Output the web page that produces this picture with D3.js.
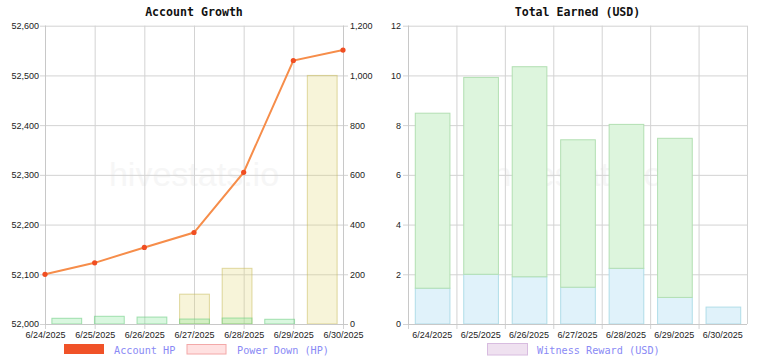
<!DOCTYPE html>
<html><head><meta charset="utf-8">
<script src="https://cdn.jsdelivr.net/npm/d3@7"></script>
<style>
body{margin:0;background:#fff;}
svg text{font-family:"Liberation Sans Narrow","Liberation Sans",Arial,sans-serif;}
.title{font-family:"DejaVu Sans Mono",monospace !important;font-weight:bold;font-size:11.6px;fill:#111;}
.leg{font-family:"DejaVu Sans Mono",monospace !important;font-size:10.2px;fill:#8a8af5;}
.tick text{font-size:9px;fill:#333;}
</style></head><body>
<svg id="c" width="768" height="358"></svg>
<script>
const dates = ["6/24/2025","6/25/2025","6/26/2025","6/27/2025","6/28/2025","6/29/2025","6/30/2025"];
const accountHP = [52100,52123,52154,52184,52305,52530,52551];
const powerDownHP = [0,0,0,120,224,0,1000];
const otherHP = [23,31,28,20,24,19,0];
const leftTicks = [52000,52100,52200,52300,52400,52500,52600];
const rightTicks = [0,200,400,600,800,1000,1200];
const witnessUSD = [1.44,2.0,1.90,1.48,2.24,1.07,0.68];
const otherUSD = [7.04,7.92,8.45,5.93,5.79,6.40,0];
const usdTicks = [0,2,4,6,8,10,12];

const svg = d3.select("#c");
const grid = "#d3d3d3";
const fmt = d3.format(",");

// ---------- Left chart ----------
const L = {x0:45,x1:343,y0:25.7,y1:324};
const xp = d3.scalePoint().domain(dates).range([L.x0,L.x1]);
const xb = d3.scaleBand().domain(dates).range([L.x0,L.x1]).paddingInner(0.3).paddingOuter(0.15);
const yl = d3.scaleLinear().domain([52000,52600]).range([L.y1,L.y0]);
const yr = d3.scaleLinear().domain([0,1200]).range([L.y1,L.y0]);
const gL = svg.append("g");

// watermark
gL.append("text").attr("x",(L.x0+L.x1)/2).attr("y",186).attr("text-anchor","middle")
  .style("font-family","Liberation Sans,Arial").style("font-size","34px").style("fill","#f6f6f6").text("hivestats.io");

// grid
gL.append("g").selectAll("line").data(leftTicks).join("line")
  .attr("x1",L.x0-5).attr("x2",L.x1+5).attr("y1",d=>yl(d)+0.5).attr("y2",d=>yl(d)+0.5).attr("stroke",grid);
gL.append("g").selectAll("line").data(dates).join("line")
  .attr("x1",d=>xp(d)+0.5).attr("x2",d=>xp(d)+0.5).attr("y1",L.y0).attr("y2",L.y1+5).attr("stroke",grid);

// bars
gL.append("g").selectAll("rect").data(dates).join("rect")
  .attr("x",d=>xb(d)+0.5).attr("width",xb.bandwidth())
  .attr("y",(d,i)=>yr(powerDownHP[i])).attr("height",(d,i)=>yr(0)-yr(powerDownHP[i]))
  .attr("fill","rgba(225,215,120,0.28)").attr("stroke","rgba(200,185,90,0.55)").attr("stroke-width",1);
gL.append("g").selectAll("rect").data(dates).join("rect")
  .attr("x",d=>xb(d)+0.5).attr("width",xb.bandwidth())
  .attr("y",(d,i)=>yr(otherHP[i])).attr("height",(d,i)=>yr(0)-yr(otherHP[i]))
  .attr("fill","rgba(120,225,140,0.28)").attr("stroke","rgba(110,205,130,0.6)").attr("stroke-width",1)
  .attr("display",(d,i)=>otherHP[i]>0?null:"none");

// axes
const axL = d3.axisLeft(yl).tickValues(leftTicks).tickFormat(fmt).tickSize(0).tickPadding(6);
const gAxL = gL.append("g").attr("class","tick-g").attr("transform",`translate(${L.x0},0)`).call(axL);
const axR = d3.axisRight(yr).tickValues(rightTicks).tickFormat(fmt).tickSize(0).tickPadding(7);
const gAxR = gL.append("g").attr("transform",`translate(${L.x1},0)`).call(axR);
const axB = d3.axisBottom(xp).tickSize(0).tickPadding(8);
const gAxB = gL.append("g").attr("transform",`translate(0,${L.y1})`).call(axB);
[gAxL,gAxR,gAxB].forEach(g=>{g.select(".domain").remove(); g.selectAll(".tick text").style("font-size","9px").style("fill","#222");});
// axis borders
gL.append("line").attr("x1",L.x0+0.5).attr("x2",L.x0+0.5).attr("y1",L.y0).attr("y2",L.y1).attr("stroke","#c8c8c8");
gL.append("line").attr("x1",L.x1+0.5).attr("x2",L.x1+0.5).attr("y1",L.y0).attr("y2",L.y1).attr("stroke","#c8c8c8");
gL.append("line").attr("x1",L.x0).attr("x2",L.x1+5).attr("y1",L.y1+0.5).attr("y2",L.y1+0.5).attr("stroke","#c8c8c8");

// line
const line = d3.line().x(d=>xp(d[0])).y(d=>yl(d[1]));
const pts = dates.map((d,i)=>[d,accountHP[i]]);
gL.append("path").datum(pts).attr("d",line).attr("fill","none").attr("stroke","#f68d4a").attr("stroke-width",2);
gL.append("g").selectAll("circle").data(pts).join("circle")
  .attr("cx",d=>xp(d[0])).attr("cy",d=>yl(d[1])).attr("r",2.6).attr("fill","#f04e22");

// title
svg.append("text").attr("class","title").attr("x",(L.x0+L.x1)/2).attr("y",16).attr("text-anchor","middle").text("Account Growth");

// legend
svg.append("rect").attr("x",64).attr("y",344).attr("width",40).attr("height",10).attr("fill","#f05228");
svg.append("text").attr("class","leg").attr("x",114).attr("y",353.5).text("Account HP");
svg.append("rect").attr("x",187).attr("y",344.5).attr("width",39).attr("height",9.5).attr("fill","#ffe1e1").attr("stroke","#f3a8a8");
svg.append("text").attr("class","leg").attr("x",417).attr("y",353.5).text("");
svg.append("text").attr("class","leg").attr("x",237).attr("y",353.5).text("Power Down (HP)");

// ---------- Right chart ----------
const R = {x0:408,x1:747,y0:25.7,y1:324};
const xr = d3.scaleBand().domain(dates).range([R.x0,R.x1]);
const xr2 = d3.scaleBand().domain(dates).range([R.x0,R.x1]).paddingInner(0.285).paddingOuter(0.14);
const yu = d3.scaleLinear().domain([0,12]).range([R.y1,R.y0]);
const gR = svg.append("g");
gR.append("text").attr("x",(R.x0+R.x1)/2).attr("y",186).attr("text-anchor","middle")
  .style("font-family","Liberation Sans,Arial").style("font-size","34px").style("fill","#f6f6f6").text("hivestats.io");
gR.append("g").selectAll("line").data(usdTicks).join("line")
  .attr("x1",R.x0-5).attr("x2",R.x1).attr("y1",d=>yu(d)+0.5).attr("y2",d=>yu(d)+0.5).attr("stroke",grid);
const bounds = dates.map(d=>xr(d)).concat([R.x1]);
gR.append("g").selectAll("line").data(bounds).join("line")
  .attr("x1",d=>d+0.5).attr("x2",d=>d+0.5).attr("y1",R.y0).attr("y2",(d,i)=>i===bounds.length-1?R.y1:R.y1+5).attr("stroke",grid);

gR.append("g").selectAll("rect").data(dates).join("rect")
  .attr("x",d=>xr2(d)+0.5).attr("width",xr2.bandwidth())
  .attr("y",(d,i)=>yu(witnessUSD[i])).attr("height",(d,i)=>yu(0)-yu(witnessUSD[i]))
  .attr("fill","#e0f2fa").attr("stroke","#b0dde8").attr("stroke-width",1);
gR.append("g").selectAll("rect").data(dates).join("rect")
  .attr("x",d=>xr2(d)+0.5).attr("width",xr2.bandwidth())
  .attr("y",(d,i)=>yu(witnessUSD[i]+otherUSD[i])).attr("height",(d,i)=>yu(witnessUSD[i])-yu(witnessUSD[i]+otherUSD[i]))
  .attr("fill","#ddf5dd").attr("stroke","#b2dfb2").attr("stroke-width",1)
  .attr("display",(d,i)=>otherUSD[i]>0?null:"none");

const gAxU = gR.append("g").attr("transform",`translate(${R.x0},0)`).call(d3.axisLeft(yu).tickValues(usdTicks).tickSize(0).tickPadding(7));
const gAxRB = gR.append("g").attr("transform",`translate(0,${R.y1})`).call(d3.axisBottom(xr).tickSize(0).tickPadding(8));
[gAxU,gAxRB].forEach(g=>{g.select(".domain").remove(); g.selectAll(".tick text").style("font-size","9px").style("fill","#222");});
gR.append("line").attr("x1",R.x0+0.5).attr("x2",R.x0+0.5).attr("y1",R.y0).attr("y2",R.y1).attr("stroke","#c8c8c8");
gR.append("line").attr("x1",R.x0).attr("x2",R.x1).attr("y1",R.y1+0.5).attr("y2",R.y1+0.5).attr("stroke","#c8c8c8");

svg.append("text").attr("class","title").attr("x",(R.x0+R.x1)/2).attr("y",16).attr("text-anchor","middle").text("Total Earned (USD)");
svg.append("rect").attr("x",487.5).attr("y",343.5).attr("width",40).attr("height",11.5).attr("fill","#efe1f0").attr("stroke","#d8bce0");
svg.append("text").attr("class","leg").attr("x",537).attr("y",353.5).text("Witness Reward (USD)");
</script></body></html>
